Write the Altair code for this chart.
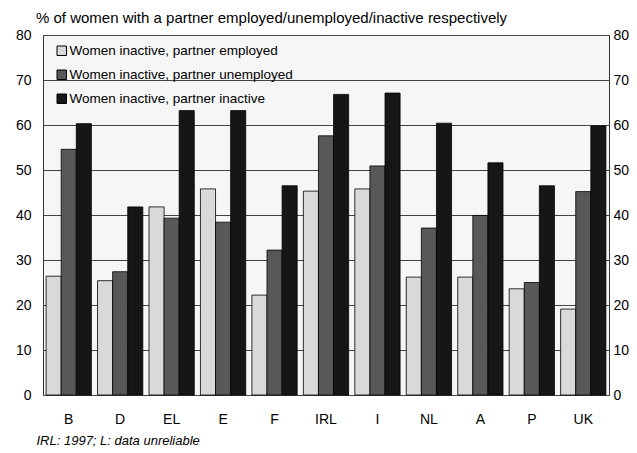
import altair as alt
import pandas as pd

countries = ["B", "D", "EL", "E", "F", "IRL", "I", "NL", "A", "P", "UK"]
employed = [26.4, 25.4, 41.8, 45.8, 22.2, 45.3, 45.8, 26.2, 26.2, 23.6, 19.1]
unemployed = [54.6, 27.4, 39.3, 38.4, 32.2, 57.6, 50.9, 37.1, 39.9, 25.0, 45.2]
inactive = [60.3, 41.8, 63.2, 63.2, 46.5, 66.8, 67.1, 60.4, 51.6, 46.5, 59.8]

series = [
    "Women inactive, partner employed",
    "Women inactive, partner unemployed",
    "Women inactive, partner inactive",
]
colors = ["#d9d9d9", "#585858", "#161616"]
y_ticks = [0, 10, 20, 30, 40, 50, 60, 70, 80]

rows = []
for i, c in enumerate(countries):
    for s, vals in zip(series, [employed, unemployed, inactive]):
        rows.append({"country": c, "series": s, "value": vals[i]})
df = pd.DataFrame(rows)

FONT = "Liberation Sans"

x_enc = alt.X(
    "country:N",
    sort=countries,
    scale=alt.Scale(paddingInner=0.12, paddingOuter=0.06),
    axis=alt.Axis(
        title="IRL: 1997; L: data unreliable",
        labelAngle=0,
        labelPadding=17,
        ticks=False,
        domain=False,
        labelFontSize=14,
        labelFont=FONT,
        labelColor="black",
        titleFont=FONT,
        titleFontStyle="italic",
        titleFontWeight="normal",
        titleFontSize=13,
        titleColor="black",
        titleAnchor="start",
        titleAlign="left",
        titleBaseline="middle",
        titleX=-7,
        titleY=45,
    ),
)

bars = alt.Chart(df).mark_bar(stroke="black", strokeWidth=0.8).encode(
    x=x_enc,
    xOffset=alt.XOffset("series:N", sort=series, scale=alt.Scale(paddingInner=0, paddingOuter=0)),
    y=alt.Y(
        "value:Q",
        scale=alt.Scale(domain=[0, 80], nice=False),
        axis=alt.Axis(
            values=y_ticks,
            title=None,
            orient="left",
            ticks=False,
            domain=False,
            labelPadding=12,
            labelFontSize=14,
            labelFont=FONT,
            labelColor="black",
            grid=True,
            gridColor="#444444",
            gridWidth=1,
        ),
    ),
    color=alt.Color(
        "series:N",
        sort=series,
        scale=alt.Scale(domain=series, range=colors),
        legend=alt.Legend(
            title=None,
            orient="none",
            legendX=12,
            legendY=9,
            labelFontSize=13.5,
            labelFont=FONT,
            labelColor="black",
            labelLimit=400,
            symbolType="square",
            symbolSize=90,
            symbolStrokeColor="black",
            symbolStrokeWidth=1,
            rowPadding=9,
            labelOffset=1,
            padding=0,
        ),
    ),
)

right = alt.Chart(df).mark_point(opacity=0).encode(
    y=alt.Y(
        "value:Q",
        scale=alt.Scale(domain=[0, 80], nice=False),
        axis=alt.Axis(
            values=y_ticks,
            title=None,
            orient="right",
            ticks=False,
            domain=False,
            grid=False,
            labelPadding=4,
            labelFontSize=14,
            labelFont=FONT,
            labelColor="black",
        ),
    ),
)

chart = (
    alt.layer(bars, right)
    .resolve_scale(y="independent")
    .properties(
        width=566,
        height=360,
        autosize=alt.AutoSizeParams(type="none"),
        padding={"left": 35, "top": 27, "right": 20, "bottom": 55},
        background="white",
        title=alt.TitleParams(
            "% of women with a partner employed/unemployed/inactive respectively",
            anchor="start",
            frame="group",
            fontSize=15,
            fontWeight="normal",
            font=FONT,
            color="black",
            dx=-7,
            offset=2,
        ),
    )
    .configure_view(stroke="#333333", strokeWidth=1, fill="#f6f6f6")
)

chart.save("out.html", embed_options={"renderer": "svg", "actions": False})
